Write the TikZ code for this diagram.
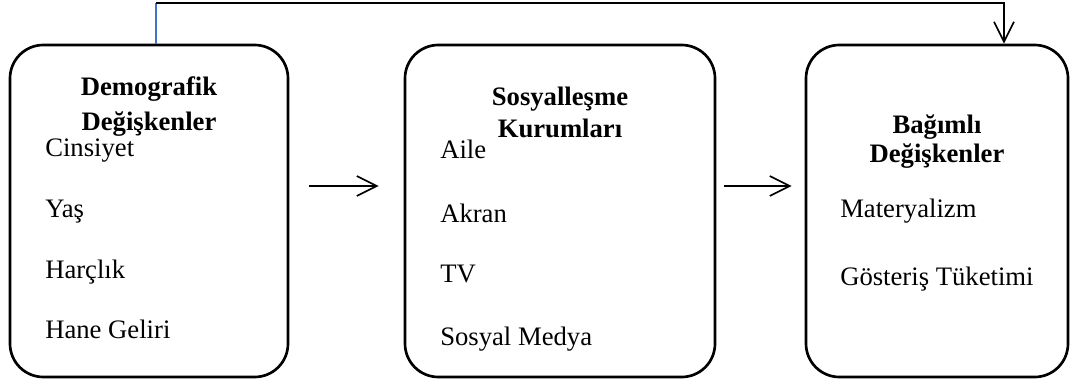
\documentclass[tikz,border=0pt]{standalone}
\usepackage{fontspec}
\setmainfont{Liberation Serif}
\usetikzlibrary{arrows.meta,positioning,calc}
\definecolor{lineblue}{RGB}{68,114,196}

\begin{document}
\begin{tikzpicture}[x=0.75pt,y=0.75pt,>={Straight Barb[length=15pt,width=15pt]},
  kutu/.style={draw,line width=2pt,rounded corners=25pt,minimum height=249pt,inner sep=0pt},
  baslik/.style={font=\fontsize{20}{24}\selectfont\bfseries,anchor=base,inner sep=0pt},
  madde/.style={font=\fontsize{20}{24}\selectfont,anchor=base west,inner sep=0pt},
  ok/.style={->,line width=1.25pt}]
  \useasboundingbox (0,0) rectangle (1070,380);
  % kutular
  \node[kutu,minimum width=208.5pt] (demo) at (149,169) {};
  \node[kutu,minimum width=232.5pt] (sos) at (560,169) {};
  \node[kutu,minimum width=196.5pt] (bag) at (937,169) {};
  % basliklar
  \node[baslik] (demo1) at (149,285) {Demografik};
  \node[baslik] (demo2) at (149,250) {Değişkenler};
  \node[baslik] (sos1) at (560,275) {Sosyalleşme};
  \node[baslik] (sos2) at (560,243) {Kurumları};
  \node[baslik] (bag1) at (937,247) {Bağımlı};
  \node[baslik] (bag2) at (937,218) {Değişkenler};
  % maddeler
  \foreach \i/\y/\t in {1/224/Cinsiyet, 2/163/Yaş, 3/102/Harçlık, 4/42/Hane Geliri}{
    \node[madde] (d\i) at (45,\y) {\t};
  }
  \foreach \i/\y/\t in {1/222/Aile, 2/158/Akran, 3/98/TV, 4/35/Sosyal Medya}{
    \node[madde] (s\i) at (440,\y) {\t};
  }
  \foreach \i/\y/\t in {1/163/Materyalizm, 2/95/Gösteriş Tüketimi}{
    \node[madde] (b\i) at (840,\y) {\t};
  }
  % oklar
  \draw[ok] ($(demo.east)+(20,25)$) -- ($(sos.west)+(-25,25)$);
  \draw[ok] ($(sos.east)+(8,25)$) -- ($(bag.west)+(-13,25)$);
  \coordinate (ust) at ($(demo.north)+(7,41)$);
  \draw[lineblue,line width=1.25pt] ($(demo.north)+(7,0)$) -- (ust);
  \draw[ok] (ust) -| ($(bag.north)+(67,0)$);
\end{tikzpicture}
\end{document}
